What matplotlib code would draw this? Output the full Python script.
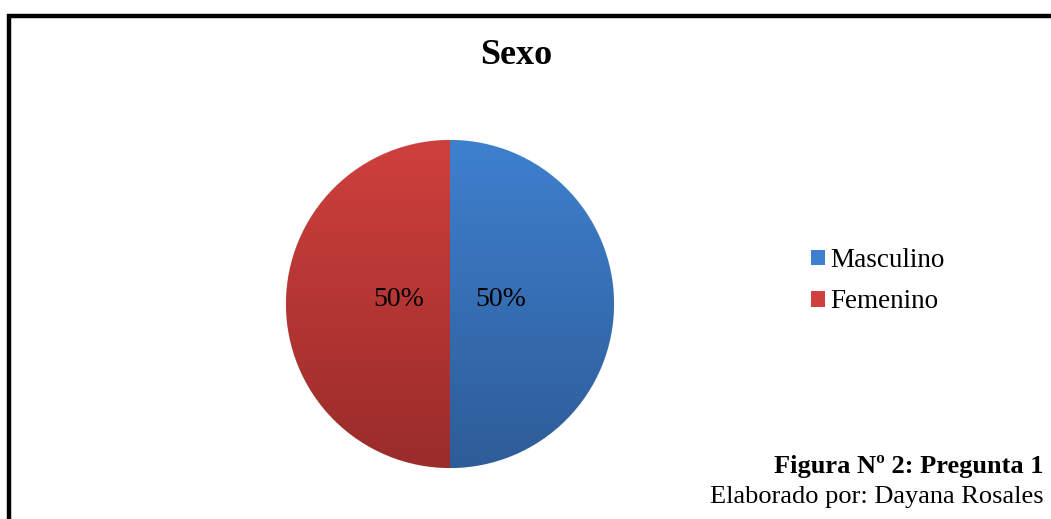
import matplotlib
matplotlib.use("Agg")
import matplotlib.pyplot as plt
import matplotlib.patches as mpatches
import numpy as np
from matplotlib.colors import LinearSegmentedColormap

categories = ["Masculino", "Femenino"]
values = [50, 50]
top_colors = ["#3e80ce", "#ce403d"]
bottom_colors = ["#2e5c98", "#9a2c2a"]

plt.rcParams["font.family"] = ["Liberation Serif", "DejaVu Serif"]

fig = plt.figure(figsize=(10.51, 5.19), dpi=100)
W, H = 1051, 519

# outer frame (runs off the right and bottom edges)
frame = mpatches.Rectangle((9 / W, -0.1), 1.2, 1 - 16 / H + 0.1, transform=fig.transFigure,
                           fill=False, edgecolor="black", linewidth=3.2, clip_on=False)
fig.patches.append(frame)

cx, cy, r = 450, 304, 164
ax = fig.add_axes([(cx - r) / W, (H - cy - r) / H, 2 * r / W, 2 * r / H])

wedges, texts, autotexts = ax.pie(values, startangle=90, counterclock=False,
                                  colors=top_colors, autopct="%1.0f%%", pctdistance=0.31,
                                  wedgeprops=dict(edgecolor="#e8e8e8", linewidth=0.6),
                                  textprops=dict(fontsize=20, color="black"))
ax.set_xlim(-1, 1)
ax.set_ylim(-1, 1)

# vertical gradient inside each wedge
grad = np.linspace(1, 0, 256).reshape(-1, 1)
for w, ct, cb in zip(wedges, top_colors, bottom_colors):
    cmap = LinearSegmentedColormap.from_list("g", [cb, ct])
    im = ax.imshow(grad, cmap=cmap, extent=(-1, 1, -1, 1), aspect="auto", zorder=w.get_zorder() + 0.1)
    im.set_clip_path(w)
for t in autotexts:
    t.set_zorder(5)
    x, y = t.get_position()
    t.set_position((x, y + 0.025))

handles = [mpatches.Patch(facecolor=c, edgecolor="none") for c in top_colors]
fig.legend(handles, categories, loc="upper left", bbox_to_anchor=(811 / W, 1 - 248 / H),
           frameon=False, fontsize=19.5, handlelength=0.52, handleheight=0.52,
           handletextpad=0.2, labelspacing=0.6, borderpad=0, borderaxespad=0)

fig.text(516 / W, 1 - 55 / H, "Sexo", fontsize=26, fontweight="bold", ha="center", va="center")
fig.text(1044 / W, 1 - 467 / H, "Figura Nº 2: Pregunta 1", fontsize=19, fontweight="bold",
         ha="right", va="center")
fig.text(1044 / W, 1 - 497 / H, "Elaborado por: Dayana Rosales", fontsize=19,
         ha="right", va="center")

fig.savefig("out.png", dpi=100)
